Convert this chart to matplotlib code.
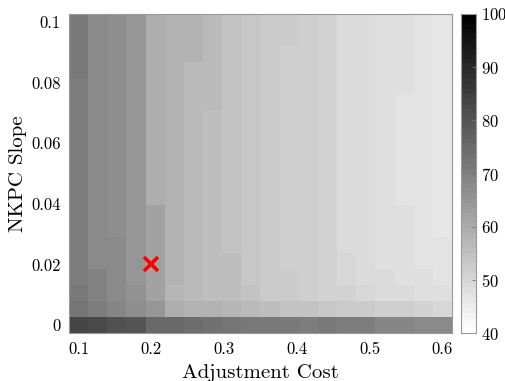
import numpy as np
import matplotlib
matplotlib.use("Agg")
import matplotlib.pyplot as plt
from matplotlib.colors import ListedColormap

plt.rcParams['font.family'] = 'cmr10'
plt.rcParams['mathtext.fontset'] = 'cm'
plt.rcParams['axes.formatter.use_mathtext'] = True

# grid of the parameter sweep
adj_cost = np.linspace(0.1, 0.6, 20)
nkpc_slope = np.linspace(0.0, 0.1, 20)

# chosen calibration
pick_x, pick_y = 0.2, 0.02

# values per column (adjustment cost), listed from top row (slope 0.1) down to slope 0
columns = [
    [71.8]*4 + [70.8]*13 + [71.8, 72.7, 84.0],
    [68.0]*16 + [69.9, 69.9, 70.8, 83.1],
    [66.4]*14 + [68.0]*4 + [68.9, 81.2],
    [64.7]*17 + [66.1, 67.1, 80.2],
    [59.1]*12 + [62.4]*6 + [65.2, 75.5],
    [58.1]*17 + [57.6, 59.0, 75.5],
    [57.9]*3 + [56.7]*14 + [56.7, 58.6, 74.6],
    [56.7]*6 + [55.8]*11 + [55.8, 58.1, 73.6],
    [54.3]*15 + [55.0]*2 + [55.5, 57.6, 72.7],
    [53.4]*17 + [54.5, 56.7, 71.8],
    [52.9]*17 + [53.0, 55.5, 71.8],
    [52.9]*2 + [51.5]*14 + [52.3, 52.5, 54.8, 71.3],
    [51.3]*17 + [52.0, 54.8, 70.8],
    [50.6]*17 + [50.6, 53.9, 71.0],
    [49.2]*15 + [50.1]*2 + [50.6, 53.0, 70.4],
    [48.9]*17 + [50.1, 53.0, 70.0],
    [48.2]*16 + [49.2, 49.2, 52.0, 69.0],
    [48.2]*5 + [47.0]*7 + [47.8]*5 + [49.2, 52.0, 68.5],
    [46.8]*16 + [48.2, 48.2, 51.1, 68.0],
    [45.9]*14 + [46.8]*3 + [48.2, 50.1, 67.5],
]

Z = np.array(columns).T[::-1]  # rows ordered by increasing slope

cmap = ListedColormap(plt.cm.gray_r(np.linspace(0, 1, 64)))

fig = plt.figure(figsize=(5.06, 3.81), dpi=100)
ax = fig.add_axes([69/506, 48/381, 383/506, 319/381])
cax = fig.add_axes([461/506, 48/381, 15/506, 319/381])

mesh = ax.pcolormesh(adj_cost, nkpc_slope, Z, cmap=cmap, vmin=40, vmax=100,
                     shading='nearest')
ax.plot(pick_x, pick_y, 'x', color='red', markersize=10, mew=2.6)

ax.set_xticks([0.1, 0.2, 0.3, 0.4, 0.5, 0.6])
ax.set_xticklabels(['0.1', '0.2', '0.3', '0.4', '0.5', '0.6'])
ax.set_yticks([0, 0.02, 0.04, 0.06, 0.08, 0.1])
ax.set_yticklabels(['0', '0.02', '0.04', '0.06', '0.08', '0.1'])
ax.tick_params(length=0, labelsize=12, pad=6)
ax.set_xlabel('Adjustment Cost', fontsize=15, labelpad=5)
ax.set_ylabel('NKPC Slope', fontsize=15, labelpad=3)
for s in ax.spines.values():
    s.set_color('#999999')
    s.set_linewidth(0.8)

cb = fig.colorbar(mesh, cax=cax)
cb.set_ticks([40, 50, 60, 70, 80, 90, 100])
cb.ax.tick_params(labelsize=12, direction='in', length=3, color='#777777', width=0.6)
cb.outline.set_edgecolor('#999999')
cb.outline.set_linewidth(0.8)

fig.savefig('out.png', dpi=100)
